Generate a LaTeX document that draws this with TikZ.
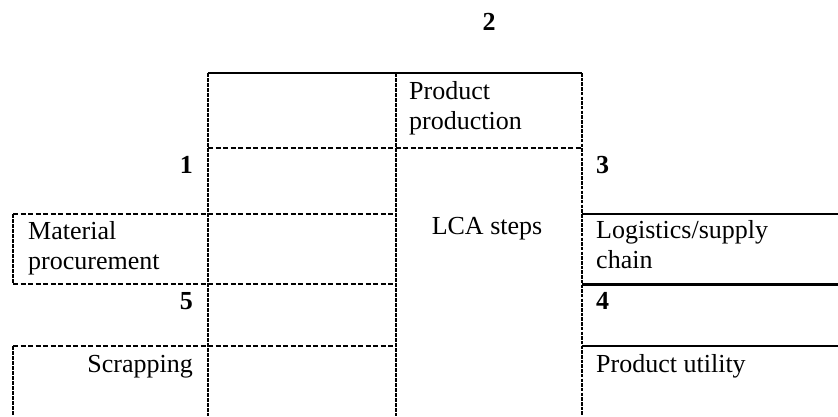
\documentclass[tikz,border=0pt]{standalone}
\usepackage{fontspec}
\setmainfont{Liberation Serif}
\begin{document}
\begin{tikzpicture}[x=1pt,y=-1pt,
  txt/.style={inner sep=0pt,font=\fontsize{26}{30}\selectfont,align=left},
  num/.style={inner sep=0pt,font=\fontsize{26}{30}\selectfont\bfseries},
  hdash/.style={line width=1.8pt,dash pattern=on 5pt off 2.5pt},
  vdash/.style={line width=1.8pt,dash pattern=on 3.5pt off 1.5pt},
  vdashheavy/.style={line width=2.4pt,dash pattern=on 3.5pt off 1.2pt},
  solidline/.style={line width=1.9pt},
  thickline/.style={line width=3pt}]
\useasboundingbox (0,0) rectangle (838,416);
% grid coordinates
\coordinate (c1t) at (208,73);  \coordinate (c1b) at (208,416);
\coordinate (c2t) at (396,73);  \coordinate (c2b) at (396,416);
\coordinate (c3t) at (582,73);  \coordinate (c3b) at (582,416);
\coordinate (r1a) at (208,148); \coordinate (r1b) at (582,148);
\coordinate (l2a) at (13,214);  \coordinate (l2b) at (396,214);
\coordinate (l3a) at (13,284);  \coordinate (l3b) at (396,284);
\coordinate (l4a) at (13,346);  \coordinate (l4b) at (396,346);
\coordinate (l4c) at (13,416);
\coordinate (r2a) at (582,214); \coordinate (r2b) at (838,214);
\coordinate (r3a) at (582,284); \coordinate (r3b) at (838,284);
\coordinate (r4a) at (582,346); \coordinate (r4b) at (838,346);
% lines
\draw[solidline] (c1t) -- (c3t);
\draw[hdash] (r1a) -- (r1b);
\draw[hdash] (l2a) -- (l2b);
\draw[hdash] (l3a) -- (l3b);
\draw[hdash] (l4a) -- (l4b);
\draw[solidline] (r2a) -- (r2b);
\draw[thickline] (r3a) -- (r3b);
\draw[solidline] (r4a) -- (r4b);
\draw[vdash] (c1t) -- (c1b);
\draw[vdash] (c2t) -- (c2b);
\draw[vdashheavy] (c3t) -- (c3b);
\draw[vdash] (l2a) -- (l3a);
\draw[vdash] (l4a) -- (l4c);
% texts
\node[num,anchor=base] (n2) at (489,30) {2};
\node[txt,anchor=base west] (pp) at (409,129) {Product\\production};
\node[num,anchor=base east] (n1) at (193,173) {1};
\node[num,anchor=base west] (n3) at (596,173) {3};
\node[txt,anchor=base west] (mp) at (28,269) {Material\\procurement};
\node[txt,anchor=base] (lca) at (487,234) {LCA steps};
\node[txt,anchor=base west] (ls) at (596,268) {Logistics/supply\\chain};
\node[num,anchor=base east] (n5) at (193,309) {5};
\node[num,anchor=base west] (n4) at (596,309) {4};
\node[txt,anchor=base east] (sc) at (193,372) {Scrapping};
\node[txt,anchor=base west] (pu) at (596,372) {Product utility};
\end{tikzpicture}
\end{document}
